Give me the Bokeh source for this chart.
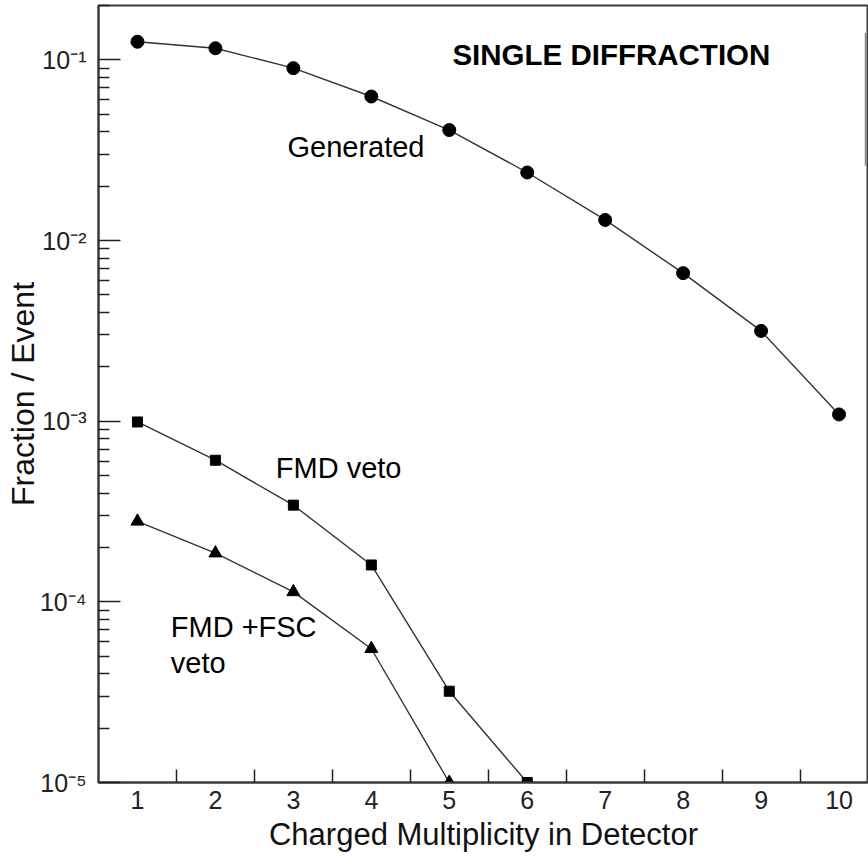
from bokeh.plotting import figure
from bokeh.models import FixedTicker, Label, CustomJSTickFormatter, BoxAnnotation
from bokeh.embed import file_html
from bokeh.resources import INLINE

# ---- data ----
multiplicity = [1, 2, 3, 4, 5, 6, 7, 8, 9, 10]
generated = [0.126, 0.116, 0.090, 0.0627, 0.0409, 0.0238, 0.0130, 0.0066, 0.00316, 0.00109]
fmd_x = [1, 2, 3, 4, 5, 6]
fmd_veto = [9.9e-4, 6.08e-4, 3.43e-4, 1.60e-4, 3.2e-5, 1.0e-5]
fsc_x = [1, 2, 3, 4, 5]
fmd_fsc_veto = [2.79e-4, 1.86e-4, 1.135e-4, 5.5e-5, 1.0e-5]

x_tick_values = [1, 2, 3, 4, 5, 6, 7, 8, 9, 10]
x_tick_marks = [1.5, 2.5, 3.5, 4.5, 5.5, 6.5, 7.5, 8.5, 9.5]
y_tick_values = [1e-5, 1e-4, 1e-3, 1e-2, 1e-1]
y_tick_labels = ["10\u207b\u2075", "10\u207b\u2074", "10\u207b\u00b3", "10\u207b\u00b2", "10\u207b\u00b9"]

title_text = "SINGLE DIFFRACTION"
x_label = "Charged Multiplicity in Detector"
y_label = "Fraction / Event"

FONT = "Liberation Sans"
X0, X1 = 0.5, 10.378
Y0, Y1 = 1e-5, 0.2

p = figure(width=868, height=862, y_axis_type="log",
           x_range=(X0, X1), y_range=(Y0, Y1),
           output_backend="svg", toolbar_location=None,
           min_border_left=98, min_border_right=0, min_border_top=5, min_border_bottom=80)

p.background_fill_color = "white"
p.border_fill_color = "white"
p.outline_line_color = "#3a3a3a"
p.outline_line_width = 2

# edge lines (reddish) like the original frame
p.xgrid.ticker = FixedTicker(ticks=[X0])
p.ygrid.ticker = FixedTicker(ticks=[Y0])
p.xgrid.grid_line_color = "#e88080"
p.ygrid.grid_line_color = "#e88080"
p.xgrid.grid_line_width = 3
p.ygrid.grid_line_width = 3

# x axis: labels at integers, tick marks at half integers
minor_y = [m * 10.0 ** k for k in range(-5, 0) for m in range(2, 10)]
p.xaxis.ticker = FixedTicker(ticks=x_tick_values, minor_ticks=x_tick_marks)
p.xaxis.major_tick_in = 0
p.xaxis.major_tick_out = 0
p.xaxis.minor_tick_in = 13
p.xaxis.minor_tick_out = 0
p.xaxis.minor_tick_line_color = "#222222"
p.xaxis.minor_tick_line_width = 1.5

p.yaxis.ticker = FixedTicker(ticks=y_tick_values, minor_ticks=minor_y)
p.yaxis.formatter = CustomJSTickFormatter(args=dict(vals=y_tick_values, labs=y_tick_labels), code="""
    for (let i = 0; i < vals.length; i++) {
        if (Math.abs(Math.log10(vals[i]) - Math.log10(tick)) < 1e-6) return labs[i];
    }
    return '';
""")
p.yaxis.major_tick_in = 22
p.yaxis.major_tick_out = 0
p.yaxis.minor_tick_in = 11
p.yaxis.minor_tick_out = 0
p.yaxis.major_tick_line_color = "#222222"
p.yaxis.minor_tick_line_color = "#222222"
p.yaxis.major_tick_line_width = 1.5
p.yaxis.minor_tick_line_width = 1.5

for ax in (p.xaxis, p.yaxis):
    ax.axis_line_color = "#3a3a3a"
    ax.axis_line_width = 2
    ax.major_label_text_font = FONT
    ax.major_label_text_font_size = "25px"
    ax.major_label_text_color = "#222222"
    ax.axis_label_text_font = FONT
    ax.axis_label_text_font_style = "normal"
    ax.axis_label_text_color = "#111111"

p.xaxis.axis_label_text_font_size = "31px"
p.yaxis.axis_label_text_font_size = "32px"
p.xaxis.axis_label = x_label
p.yaxis.axis_label = y_label
p.xaxis.major_label_standoff = 8
p.xaxis.axis_label_standoff = 5
p.yaxis.major_label_standoff = 12
p.yaxis.axis_label_standoff = -4

LINE = "#333333"
p.line(multiplicity, generated, line_color=LINE, line_width=1.4)
p.scatter(multiplicity, generated, marker="circle", size=13, fill_color="black", line_color="black")
p.line(fmd_x, fmd_veto, line_color=LINE, line_width=1.4)
p.scatter(fmd_x, fmd_veto, marker="square", size=10, fill_color="black", line_color="black")
p.line(fsc_x, fmd_fsc_veto, line_color=LINE, line_width=1.4)
p.scatter(fsc_x, fmd_fsc_veto, marker="triangle", size=13, fill_color="black", line_color="black")

def add_label(x, y, text, bold=False, size="29px"):
    p.add_layout(Label(x=x, y=y, text=text, text_font=FONT, text_font_size=size,
                       text_font_style="bold" if bold else "normal", text_color="black",
                       text_baseline="alphabetic", text_align="left", y_offset=10))

add_label(5.04, 0.0938, title_text, bold=True, size="29.5px")
add_label(2.924, 0.0290, "Generated")
add_label(2.774, 4.83e-4, "FMD veto")
add_label(1.427, 6.35e-5, "FMD +FSC")
add_label(1.427, 4.02e-5, "veto")

# remnant of a legend box at the right edge
p.add_layout(BoxAnnotation(left=10.33, right=10.35, top=0.141, bottom=0.0259,
                           fill_color="#888888", fill_alpha=1.0, line_color=None))

open("out.html", "w").write(file_html(p, INLINE))
